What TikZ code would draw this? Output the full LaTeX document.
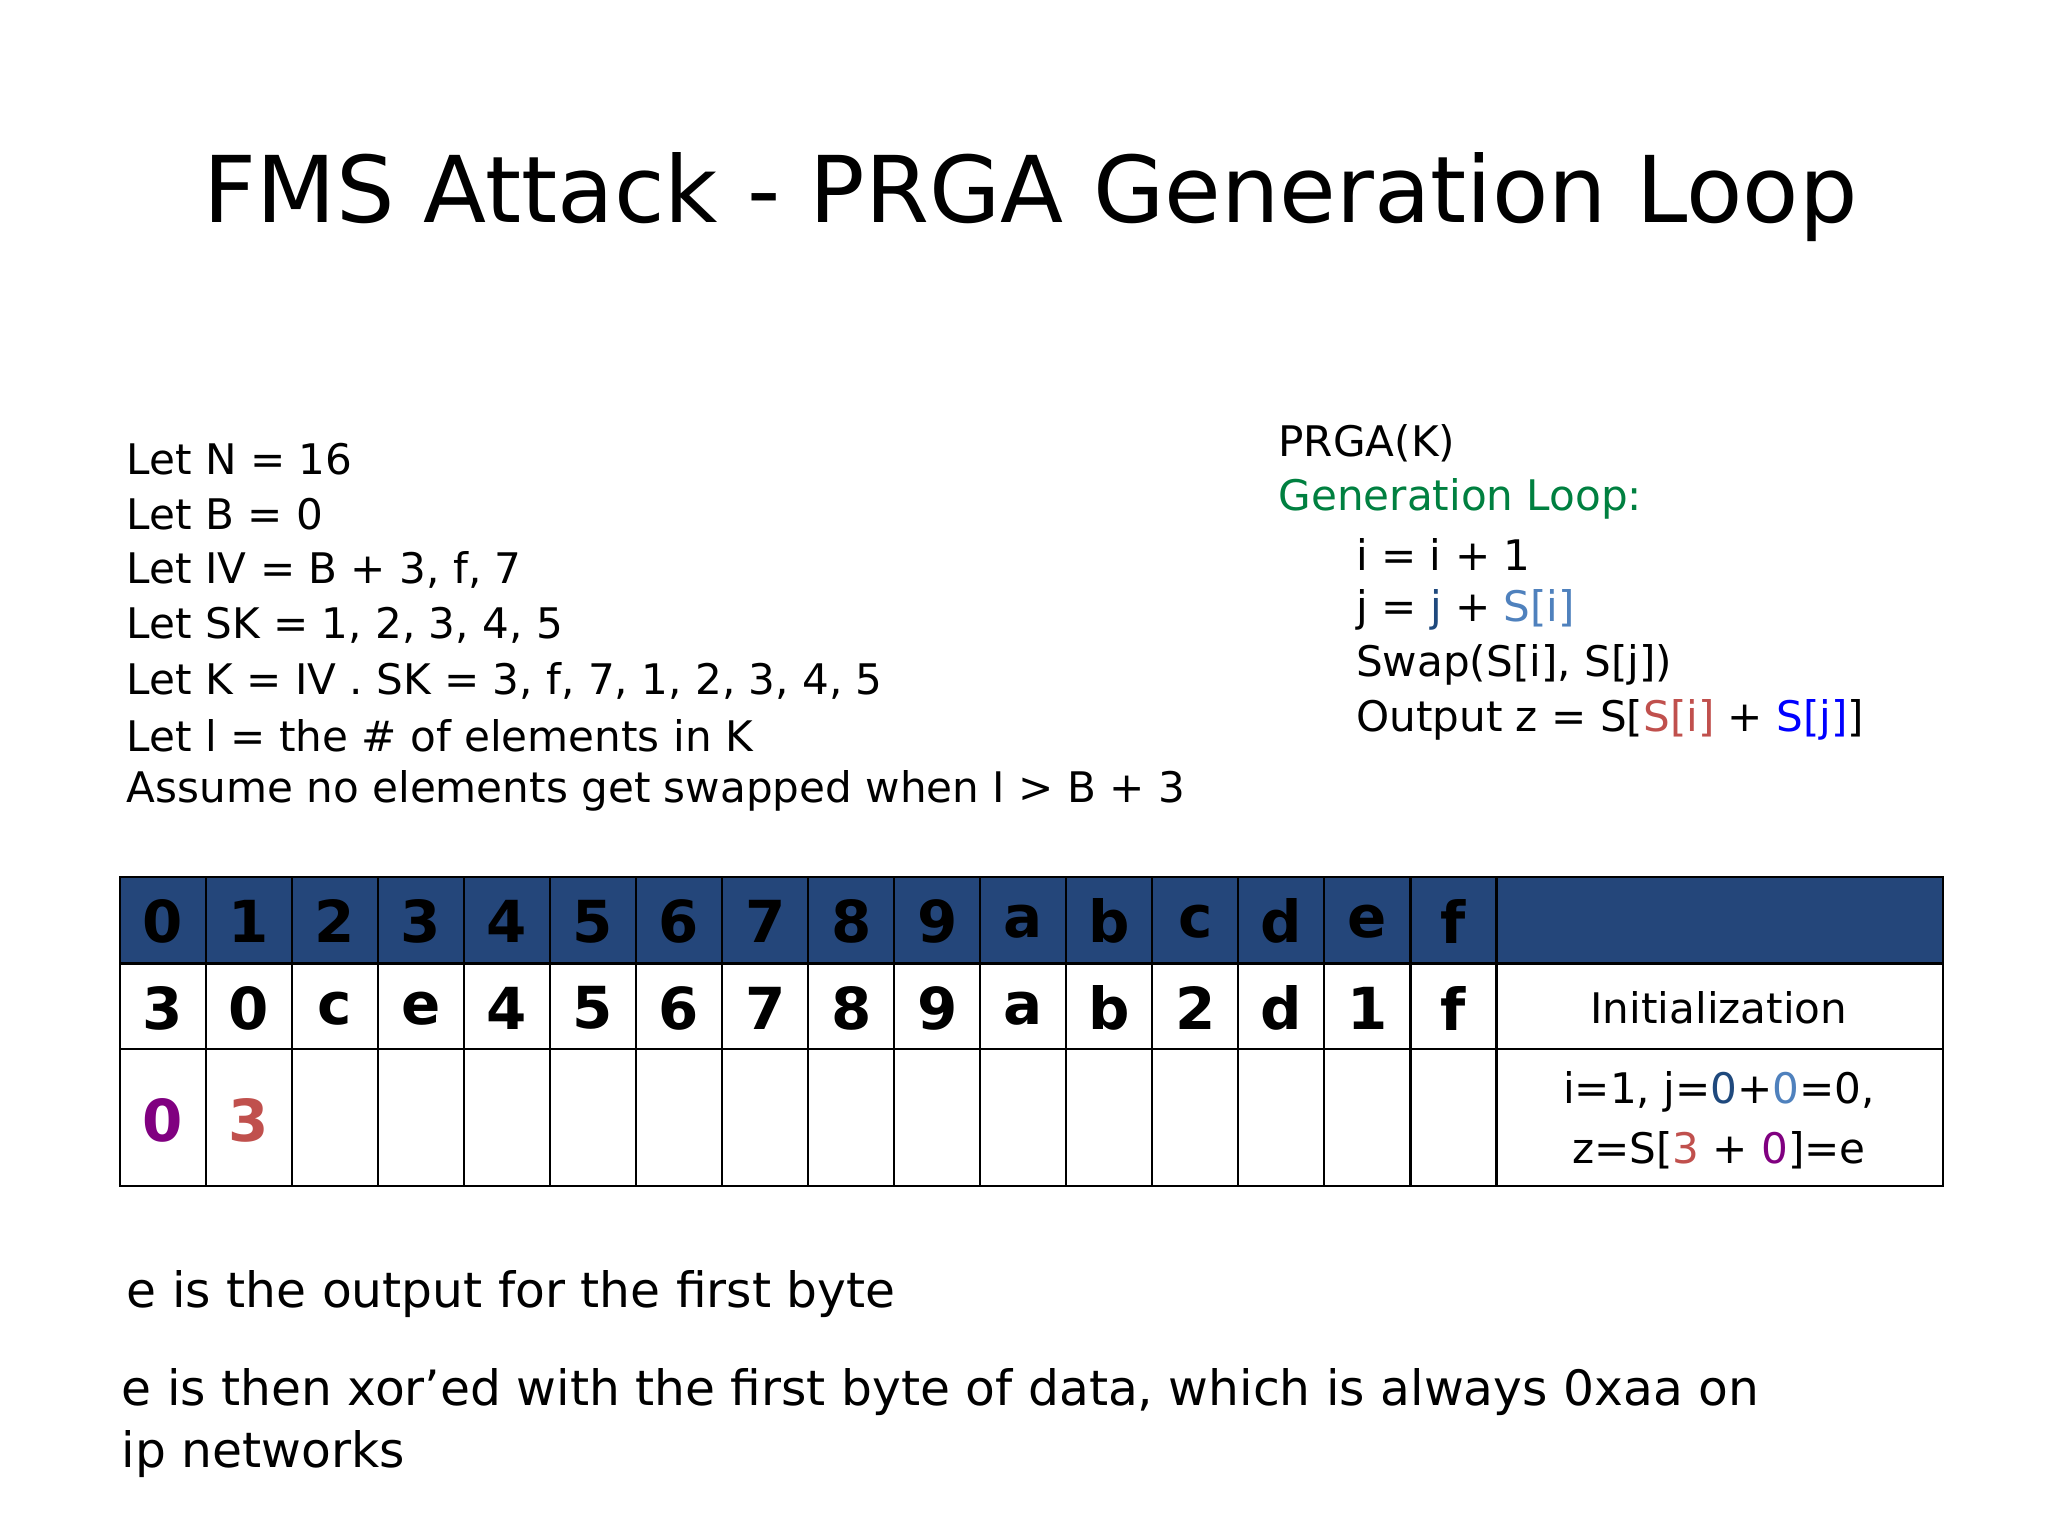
\documentclass[tikz,border=0pt]{standalone}
\usepackage{fontspec}
\setmainfont{DejaVu Sans}
\definecolor{hdr}{RGB}{36,70,122}
\definecolor{grn}{RGB}{0,128,64}
\definecolor{dblue}{RGB}{31,73,125}
\definecolor{lblue}{RGB}{79,129,189}
\definecolor{rd}{RGB}{192,80,77}
\definecolor{pur}{RGB}{128,0,128}
\begin{document}
\begin{tikzpicture}[x=0.5pt,y=-0.5pt,
  body/.style={anchor=west,inner sep=0pt,font=\fontsize{16}{19}\selectfont},
  big/.style={anchor=west,inner sep=0pt,font=\fontsize{18.5}{22}\selectfont},
  cell/.style={inner sep=0pt,font=\fontsize{22}{26}\selectfont\bfseries}]
\useasboundingbox (0,0) rectangle (1556,1167);
\node[inner sep=0pt,font=\fontsize{35}{40}\selectfont] (title) at (783,150) {FMS Attack - PRGA Generation Loop};
\node[body] (l1) at (96,349) {Let N = 16};
\node[body] (l2) at (96,391) {Let B = 0};
\node[body] (l3) at (96,433) {Let IV = B + 3, f, 7};
\node[body] (l4) at (96,475) {Let SK = 1, 2, 3, 4, 5};
\node[body] (l5) at (96,517) {Let K = IV . SK = 3, f, 7, 1, 2, 3, 4, 5};
\node[body] (l6) at (96,559) {Let l = the \# of elements in K};
\node[body] (l7) at (96,601) {Assume no elements get swapped when I > B + 3};
\node[body] (r1) at (971,337) {PRGA(K)};
\node[body,text=grn] (r2) at (971,379) {Generation Loop:};
\node[body] (r3) at (1030,421) {i = i + 1};
\node[body] (r4) at (1030,463) {j = \textcolor{dblue}{j} + \textcolor{lblue}{S[i]}};
\node[body] (r5) at (1030,505) {Swap(S[i], S[j])};
\node[body] (r6) at (1030,547) {Output z = S[\textcolor{rd}{S[i]} + \textcolor{blue}{S[j]}]};
% table
\fill[hdr] (91,666) rectangle (1476,732);
\foreach \k in {0,...,16} {\draw[line width=0.8pt] ({91+\k*65.375},666) -- ({91+\k*65.375},901);}
\draw[line width=0.8pt] (91,666) rectangle (1476,901);
\draw[line width=0.8pt] (91,732) -- (1476,732);
\draw[line width=1pt] (91,797) -- (1476,797);
\foreach \h [count=\k from 0] in {0,1,2,3,4,5,6,7,8,9,a,b,c,d,e,f}
  \node[cell] (h\k) at ({123.7+\k*65.375},700) {\h};
\foreach \v [count=\k from 0] in {3,0,c,e,4,5,6,7,8,9,a,b,2,d,1,f}
  \node[cell] (v\k) at ({123.7+\k*65.375},766) {\v};
\node[cell,text=pur] (s0) at (123.7,851) {0};
\node[cell,text=rd] (s1) at (189.1,851) {3};
\node[inner sep=0pt,font=\fontsize{16}{19}\selectfont] (init) at (1306,766) {Initialization};
\node[inner sep=0pt,align=center,font=\fontsize{16}{23}\selectfont] (step) at (1306,851) {i=1, j=\textcolor{dblue}{0}+\textcolor{lblue}{0}=0,\\z=S[\textcolor{rd}{3} + \textcolor{pur}{0}]=e};
\node[big] (b1) at (96,983) {e is the output for the first byte};
\node[big] (b2) at (92,1058) {e is then xor’ed with the first byte of data, which is always 0xaa on};
\node[big] (b3) at (92,1105) {ip networks};
\end{tikzpicture}
\end{document}
